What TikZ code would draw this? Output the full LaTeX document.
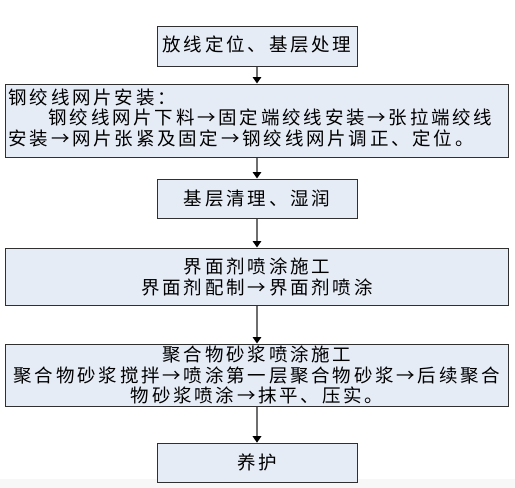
\documentclass[tikz,border=0pt]{standalone}
\usepackage{fontspec}
\usetikzlibrary{arrows.meta,positioning}
\newfontfamily\cjk{Noto Sans CJK SC}[LetterSpace=15]
\definecolor{boxfill}{HTML}{E6ECF6}
\definecolor{boxline}{HTML}{303030}
\definecolor{stemgray}{HTML}{6E6E6E}
\definecolor{stripgray}{HTML}{F7F7F7}

\begin{document}
\begin{tikzpicture}[x=1pt,y=1pt,
        every node/.append style={font=\cjk\fontsize{18.5pt}{20.5pt}\selectfont},
        flow/.style={-{Triangle[length=6.5pt,width=8.5pt,color=black]}, line width=1.6pt, draw=stemgray}]
      \tikzstyle{stage} = [draw=boxline, fill=boxfill, line width=1pt, minimum width=200pt, minimum height=39pt, inner sep=2pt]
      \tikzstyle{wide} = [stage, minimum width=503pt]
      \useasboundingbox (0,0) rectangle (515,-488);
      \fill[stripgray] (0,-478.5) rectangle (515,-488);
      \node (layout) [stage, minimum height=40pt] at (257,-46) {放线定位、基层处理\rule[-5pt]{0pt}{0pt}};
      \node (strand) [wide, minimum height=73pt, text width=497pt, align=left, below=17pt of layout]
        {钢绞线网片安装：\\\hspace*{40pt}钢绞线网片下料→固定端绞线安装→张拉端绞线\\安装→网片张紧及固定→钢绞线网片调正、定位。\rule[-7pt]{0pt}{0pt}};
      \node (clean) [stage, below=21pt of strand] {基层清理、湿润};
      \node (agent) [wide, minimum height=57.5pt, align=center, below=29pt of clean]
        {界面剂喷涂施工\\界面剂配制→界面剂喷涂};
      \node (mortar) [wide, minimum height=58pt, align=center, below=37.5pt of agent]
        {聚合物砂浆喷涂施工\\聚合物砂浆搅拌→喷涂第一层聚合物砂浆→后续聚合\\物砂浆喷涂→抹平、压实。};
      \node (cure) [stage, below=36pt of mortar] {养护};
      \foreach \a/\b in {layout/strand, strand/clean, clean/agent, agent/mortar, mortar/cure}
        \draw[flow] (\a) -- (\b);
    \end{tikzpicture}
\end{document}
